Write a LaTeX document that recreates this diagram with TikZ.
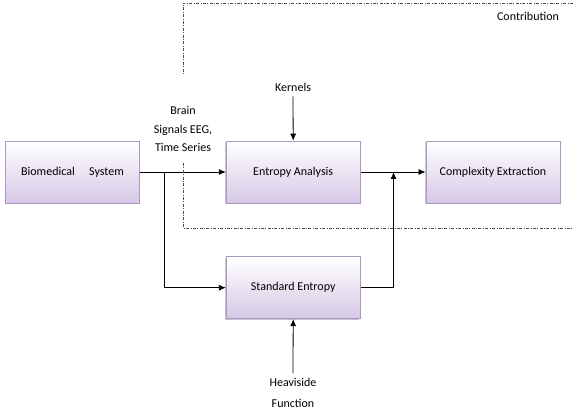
\documentclass[tikz,border=0pt]{standalone}
\usepackage{fontspec}
\setmainfont{Carlito}
\usepackage{tikz}
\usetikzlibrary{positioning, arrows.meta, shadows}
\definecolor{boxline}{RGB}{172,152,198}
\definecolor{boxfill}{RGB}{214,200,230}

\begin{document}
\begin{tikzpicture}[
  x=1pt, y=1pt,
  node distance=40pt,
  font=\fontsize{12}{14}\selectfont,
  block/.style={rectangle, draw=boxline, line width=0.7pt, top color=white, bottom color=boxfill,
    minimum width=134pt, minimum height=62pt,
    drop shadow={shadow xshift=-1pt, shadow yshift=-1.5pt, fill=black!45}},
  lbl/.style={align=center, inner sep=2pt},
  flow/.style={-{Latex[length=7pt,width=6pt]}, line width=0.8pt},
  region/.style={draw=black!70, line width=0.6pt, dash pattern=on 3pt off 1.5pt on 0.8pt off 1.5pt}
]
  \useasboundingbox (0,0) rectangle (573,-414);

  % Main chain
  \node[block] (bio) at (72.5,-172) {Biomedical\hspace{1.2em}System};
  \node[block, right=86pt of bio] (ent) {Entropy Analysis};
  \node[block, right=65pt of ent] (cplx) {Complexity Extraction};
  \node[block, below=53pt of ent] (std) {Standard Entropy};

  % Labels
  \node[lbl] (kern) at (293,-87) {Kernels};
  \node[lbl, font=\fontsize{12}{18.5}\selectfont] (brain) at (183,-129) {Brain\\Signals EEG,\\Time Series};
  \node[lbl, font=\fontsize{12}{21}\selectfont] (heavi) at (293,-393) {Heaviside\\Function};
  \node[lbl] (contrib) at (528,-16) {Contribution};

  % Connectors
  \coordinate[right=25pt of bio.east] (split);
  \coordinate[right=33pt of ent.east] (join);
  \draw[flow] (bio.east) -- (ent.west);
  \draw[flow] (ent.east) -- (cplx.west);
  \draw[flow] (split) |- (std.west);
  \draw[flow] (std.east) -| (join);
  \draw[flow] (kern.south) ++(0,-3) -- (ent.north);
  \draw[flow] (heavi.north) ++(0,3) -- (std.south);

  % Contribution region
  \coordinate (c1) at (573,-3);
  \coordinate (c2) at (183,-3);
  \coordinate (c3) at (183,-75);
  \coordinate (c4) at (183,-163);
  \coordinate (c5) at (183,-228);
  \coordinate (c6) at (573,-228);
  \draw[region] (c1) -- (c2) -- (c3);
  \draw[region] (c4) -- (c5) -- (c6);
\end{tikzpicture}
\end{document}
